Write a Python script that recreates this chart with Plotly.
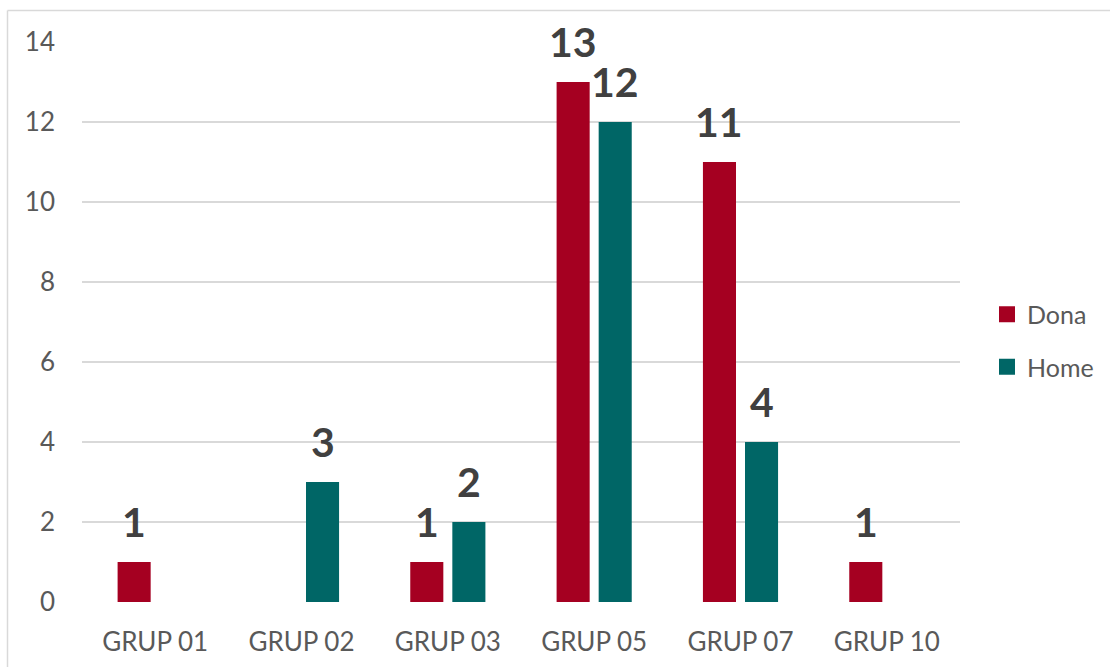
import plotly.graph_objects as go

categories = ["GRUP 01", "GRUP 02", "GRUP 03", "GRUP 05", "GRUP 07", "GRUP 10"]
dona = [1, None, 1, 13, 11, 1]
home = [None, 3, 2, 12, 4, None]
series_names = ["Dona", "Home"]
series_values = [dona, home]
series_colors = ["#A50021", "#006666"]
y_tick_values = [0, 2, 4, 6, 8, 10, 12, 14]

W, H = 1110, 667
ml, mr, mt, mb = 82, 150, 42, 65
bargap = 0.425
bargroupgap = 0.214
font_family = "Lato, 'Open Sans', sans-serif"

fig = go.Figure()
for name, vals, col in zip(series_names, series_values, series_colors):
    fig.add_trace(go.Bar(x=categories, y=vals, name=name, marker_color=col,
                         marker_line_width=0, showlegend=False, hoverinfo="x+y"))
for name, col in zip(series_names, series_colors):
    fig.add_trace(go.Scatter(x=[None], y=[None], mode="markers", name=name,
                             legendgroup=name,
                             marker=dict(symbol="square", size=17, color=col)))

# data labels above bars
plot_w = W - ml - mr
cat_w = plot_w / len(categories)
slot = cat_w * (1 - bargap) / len(series_names)
annotations = []
for si, vals in enumerate(series_values):
    xshift = (si - (len(series_names) - 1) / 2) * slot
    for cat, v in zip(categories, vals):
        if v is None:
            continue
        annotations.append(dict(x=cat, y=v, xref="x", yref="y", text=str(v),
                                showarrow=False, yanchor="bottom", xanchor="center",
                                xshift=xshift, yshift=14,
                                font=dict(family=font_family, size=41, color="#404040", weight="bold")))

# chart border (left and top visible)
px_to_x = lambda px: (px - ml) / plot_w
plot_h = H - mt - mb
py_to_y = lambda py: (H - mb - py) / plot_h
shapes = [
    dict(type="line", xref="paper", yref="paper", x0=px_to_x(7.5), x1=px_to_x(7.5),
         y0=py_to_y(10.5), y1=py_to_y(H + 5), line=dict(color="#D9D9D9", width=1.5)),
    dict(type="line", xref="paper", yref="paper", x0=px_to_x(7.5), x1=px_to_x(W + 5),
         y0=py_to_y(10.5), y1=py_to_y(10.5), line=dict(color="#D9D9D9", width=1.5)),
]

fig.update_layout(
    width=W, height=H,
    margin=dict(l=ml, r=mr, t=mt, b=mb, autoexpand=False),
    paper_bgcolor="white", plot_bgcolor="white",
    barmode="group", bargap=bargap, bargroupgap=bargroupgap,
    font=dict(family=font_family, color="#595959"),
    annotations=annotations, shapes=shapes,
    legend=dict(x=987 / W, xref="container", y=1 - 340.5 / H, yanchor="middle", yref="container",
                xanchor="left", font=dict(size=25, color="#595959"),
                tracegroupgap=17, itemwidth=30, bgcolor="rgba(0,0,0,0)"),
    xaxis=dict(showgrid=False, zeroline=False, showline=False, ticks="",
               tickfont=dict(size=26, color="#595959"), ticklabelstandoff=22),
    yaxis=dict(range=[0, 14], tickvals=y_tick_values, showgrid=True, gridcolor="#D9D9D9",
               gridwidth=1.5, zeroline=False, showline=False, ticks="",
               tickfont=dict(size=26, color="#595959"), ticklabelstandoff=26),
)

fig.write_html("out.html", config={"displayModeBar": False},
               post_script="document.body.style.margin='0px';document.body.style.overflow='hidden';")
